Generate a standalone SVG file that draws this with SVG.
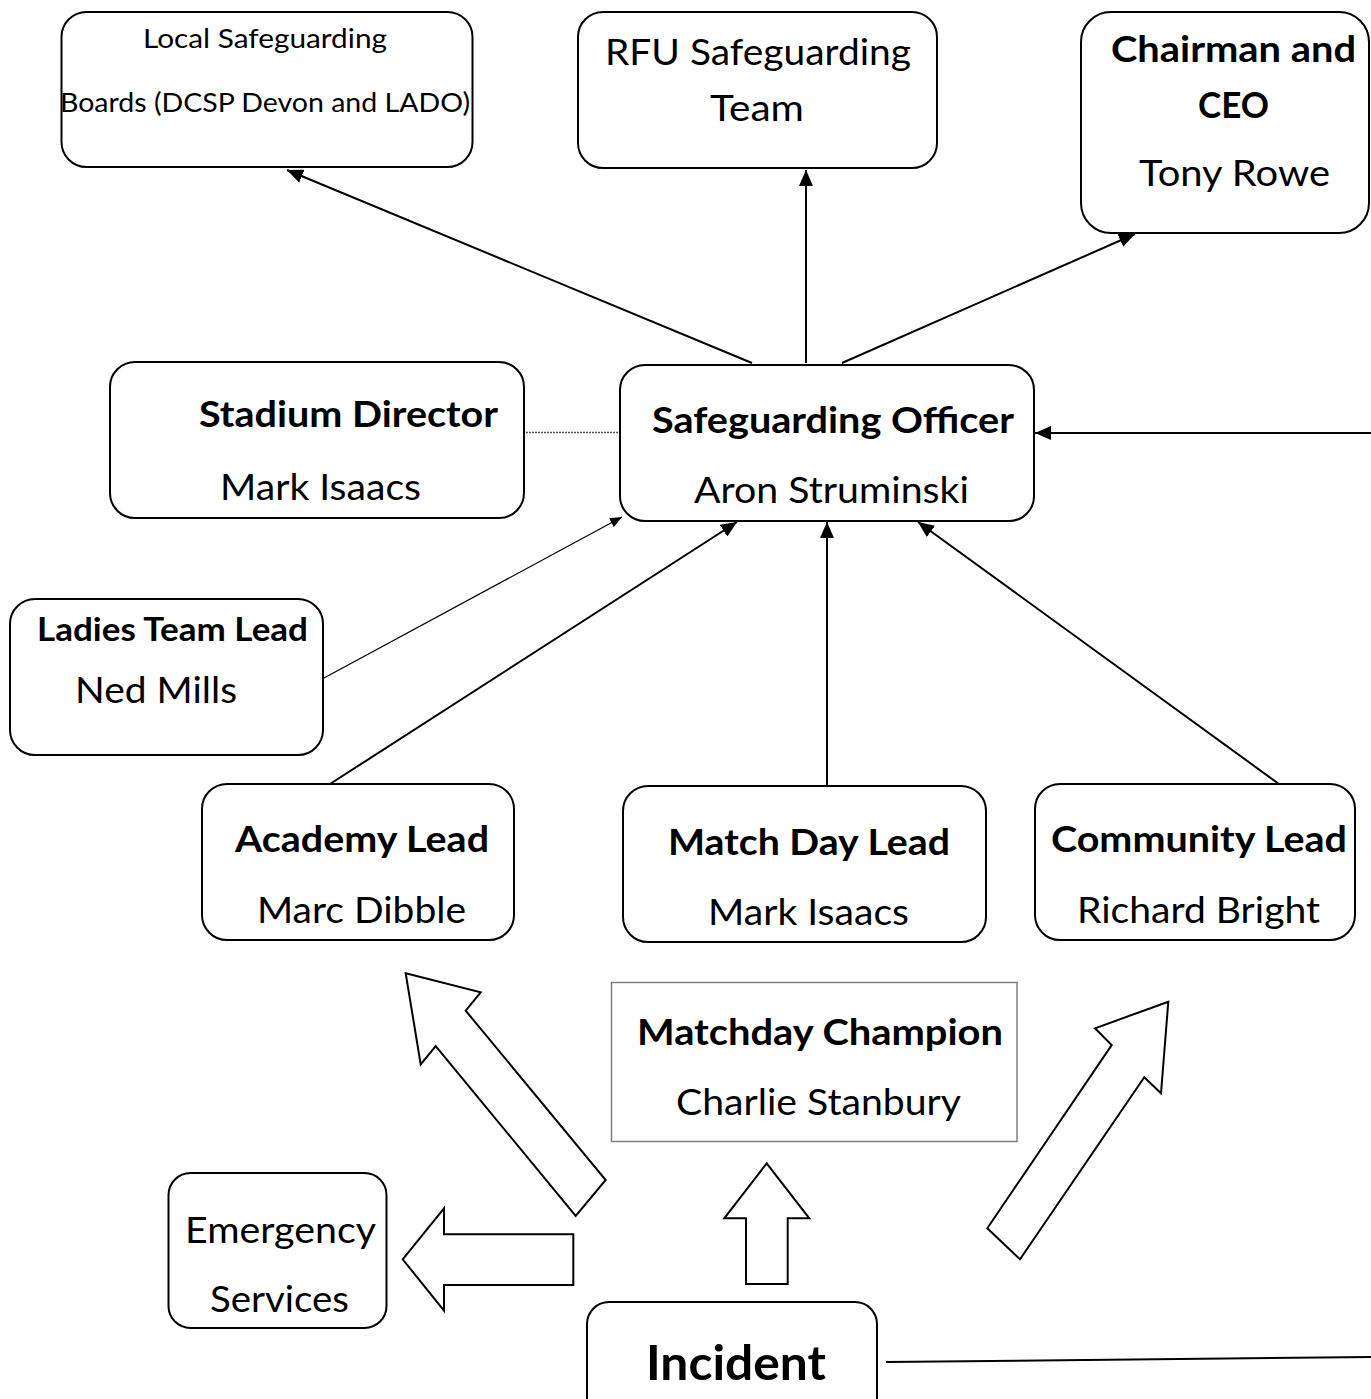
<svg xmlns="http://www.w3.org/2000/svg" width="1371" height="1399" viewBox="0 0 1371 1399">
<defs>
<style>
.box{fill:#fff;stroke:#000;stroke-width:2}
.sq{fill:#fff;stroke:#7f7f7f;stroke-width:1.5}
.t{font-family:Lato,"Liberation Sans",sans-serif;fill:#000}
.b{font-weight:bold}
.c{stroke:#000;stroke-width:2;fill:none}
.thin{stroke:#000;stroke-width:1.2;fill:none}
.dot{stroke:#555;stroke-width:1.5;stroke-dasharray:2 1;fill:none}
.blk{fill:#fff;stroke:#000;stroke-width:2;stroke-linejoin:miter}
</style>
<marker id="ah" markerUnits="userSpaceOnUse" viewBox="0 0 16 14" refX="16" refY="7" markerWidth="16" markerHeight="14" orient="auto"><path d="M0,0 L16,7 L0,14 Z" fill="#000"/></marker>
<marker id="ahs" markerUnits="userSpaceOnUse" viewBox="0 0 12 10" refX="12" refY="5" markerWidth="12" markerHeight="10" orient="auto"><path d="M0,0 L12,5 L0,10 Z" fill="#000"/></marker>
</defs>
<rect width="1371" height="1399" fill="#fff"/>

<g id="connectors">
<line class="c" x1="752" y1="363" x2="287" y2="170" marker-end="url(#ah)"/>
<line class="c" x1="806" y1="363" x2="806" y2="170" marker-end="url(#ah)"/>
<line class="c" x1="842" y1="363" x2="1135" y2="234" marker-end="url(#ah)"/>
<line class="thin" x1="324" y1="678" x2="622" y2="517" marker-end="url(#ahs)"/>
<line class="c" x1="330" y1="784" x2="737" y2="522" marker-end="url(#ah)"/>
<line class="c" x1="827" y1="786" x2="827" y2="522" marker-end="url(#ah)"/>
<line class="c" x1="1279" y1="784" x2="918" y2="522" marker-end="url(#ah)"/>
<line class="dot" x1="526" y1="432.5" x2="618" y2="432.5"/>
<line class="c" x1="1371" y1="433" x2="1035" y2="433" marker-end="url(#ah)"/>
<line class="c" x1="886" y1="1362" x2="1371" y2="1357"/>
<polygon class="blk" points="405.7,973.3 480.7,992.3 465.7,1010.7 605.7,1180 575.7,1216 435.7,1046 420.7,1064.3"/>
<polygon class="blk" points="1168.3,1001.7 1161,1093.3 1144.3,1077.3 1020,1259.3 987.3,1228.3 1111.7,1045 1095,1028.3"/>
<polygon class="blk" points="402.7,1259.3 444,1208.3 444,1234.3 573.3,1234.3 573.3,1285 444,1285 444,1310.7"/>
<polygon class="blk" points="766.7,1163.3 809.3,1218.3 787.7,1218.3 787.7,1284 746,1284 746,1218.3 724.3,1218.3"/>
</g>

<g id="local-boards">
<rect class="box" x="61.5" y="12" width="411" height="155" rx="25"/>
<text class="t" x="143" y="48" font-size="26.5" textLength="244" lengthAdjust="spacingAndGlyphs">Local Safeguarding</text>
<text class="t" x="60" y="112" font-size="26.5" textLength="410" lengthAdjust="spacingAndGlyphs">Boards (DCSP Devon and LADO)</text>
</g>

<g id="rfu">
<rect class="box" x="578" y="12" width="359" height="156" rx="25"/>
<text class="t" x="605" y="65" font-size="36" textLength="306" lengthAdjust="spacingAndGlyphs">RFU Safeguarding</text>
<text class="t" x="710" y="121" font-size="36" textLength="94" lengthAdjust="spacingAndGlyphs">Team</text>
</g>

<g id="chairman">
<rect class="box" x="1081" y="12" width="288" height="221" rx="30"/>
<text class="t b" x="1111" y="62" font-size="36" textLength="245" lengthAdjust="spacingAndGlyphs">Chairman and</text>
<text class="t b" x="1198" y="118" font-size="36" textLength="71" lengthAdjust="spacingAndGlyphs">CEO</text>
<text class="t" x="1139" y="186" font-size="36" textLength="191" lengthAdjust="spacingAndGlyphs">Tony Rowe</text>
</g>

<g id="stadium-director">
<rect class="box" x="110" y="362" width="414" height="156" rx="25"/>
<text class="t b" x="199" y="427" font-size="36" textLength="299" lengthAdjust="spacingAndGlyphs">Stadium Director</text>
<text class="t" x="220" y="500" font-size="36" textLength="201" lengthAdjust="spacingAndGlyphs">Mark Isaacs</text>
</g>

<g id="safeguarding-officer">
<rect class="box" x="620" y="365" width="414" height="156" rx="25"/>
<text class="t b" x="652" y="433" font-size="36" textLength="362" lengthAdjust="spacingAndGlyphs">Safeguarding Officer</text>
<text class="t" x="694" y="503" font-size="36" textLength="275" lengthAdjust="spacingAndGlyphs">Aron Struminski</text>
</g>

<g id="ladies-team-lead">
<rect class="box" x="10" y="599" width="313" height="156" rx="25"/>
<text class="t b" x="37" y="641" font-size="31.5" textLength="271" lengthAdjust="spacingAndGlyphs">Ladies Team Lead</text>
<text class="t" x="75" y="703" font-size="36" textLength="162" lengthAdjust="spacingAndGlyphs">Ned Mills</text>
</g>

<g id="academy-lead">
<rect class="box" x="202" y="784" width="312" height="156" rx="25"/>
<text class="t b" x="235" y="852" font-size="36" textLength="254" lengthAdjust="spacingAndGlyphs">Academy Lead</text>
<text class="t" x="257" y="923" font-size="36" textLength="209" lengthAdjust="spacingAndGlyphs">Marc Dibble</text>
</g>

<g id="match-day-lead">
<rect class="box" x="623" y="786" width="363" height="156" rx="25"/>
<text class="t b" x="668" y="855" font-size="36" textLength="282" lengthAdjust="spacingAndGlyphs">Match Day Lead</text>
<text class="t" x="708" y="925" font-size="36" textLength="201" lengthAdjust="spacingAndGlyphs">Mark Isaacs</text>
</g>

<g id="community-lead">
<rect class="box" x="1035" y="784" width="320" height="156" rx="25"/>
<text class="t b" x="1051" y="852" font-size="36" textLength="296" lengthAdjust="spacingAndGlyphs">Community Lead</text>
<text class="t" x="1077" y="923" font-size="36" textLength="243" lengthAdjust="spacingAndGlyphs">Richard Bright</text>
</g>

<g id="matchday-champion">
<rect class="sq" x="611.5" y="982.5" width="405.5" height="159"/>
<text class="t b" x="637" y="1045" font-size="36" textLength="366" lengthAdjust="spacingAndGlyphs">Matchday Champion</text>
<text class="t" x="676" y="1115" font-size="36" textLength="285" lengthAdjust="spacingAndGlyphs">Charlie Stanbury</text>
</g>

<g id="emergency-services">
<rect class="box" x="168.5" y="1173" width="218" height="155" rx="22"/>
<text class="t" x="185" y="1243" font-size="36" textLength="191" lengthAdjust="spacingAndGlyphs">Emergency</text>
<text class="t" x="210" y="1312" font-size="36" textLength="139" lengthAdjust="spacingAndGlyphs">Services</text>
</g>

<g id="incident">
<rect class="box" x="587" y="1302" width="290" height="160" rx="22"/>
<text class="t b" x="646" y="1380" font-size="48" textLength="180" lengthAdjust="spacingAndGlyphs">Incident</text>
</g>
</svg>
